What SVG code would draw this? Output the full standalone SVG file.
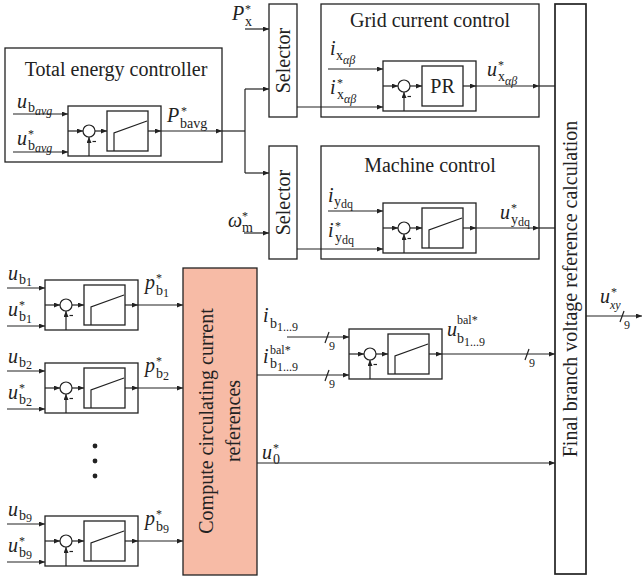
<svg xmlns="http://www.w3.org/2000/svg" xmlns:xlink="http://www.w3.org/1999/xlink" width="643" height="579" viewBox="0 0 643 579">
<style>
.ln{stroke:#222;stroke-width:1.2;fill:none}
.a{marker-end:url(#ah)}
.bx{fill:#fff;stroke:#222;stroke-width:1.3}
.fb{fill:#fff;stroke:#222;stroke-width:1.7}
.pk{fill:#f7bba6;stroke:#222;stroke-width:1.3}
text{font-family:"Liberation Serif","Times New Roman",serif;fill:#222;font-size:20px}
.i{font-style:italic}
.s{font-size:14px}
.ss{font-size:12px}
.st{font-size:12px}
.n9{font-size:12px}
</style>
<defs>
<marker id="ah" markerWidth="6" markerHeight="5" refX="6" refY="2.5" orient="auto" markerUnits="userSpaceOnUse"><path d="M0,0 L6,2.5 L0,5 z" fill="#222"/></marker>
<g id="sum">
<rect class="bx" x="0" y="0" width="93" height="50"/>
<line class="ln a" x1="0" y1="25" x2="15" y2="25"/>
<circle cx="21" cy="25" r="6" fill="#fff" stroke="#222" stroke-width="1.2"/>
<line class="ln a" x1="21" y1="50" x2="21" y2="31"/>
<line class="ln" x1="24.5" y1="35.5" x2="28" y2="35.5"/>
<line class="ln a" x1="27" y1="25" x2="39" y2="25"/>
<line class="ln a" x1="80" y1="25" x2="93" y2="25"/>
</g>
<g id="pi">
<use href="#sum"/>
<rect class="bx" x="39" y="5" width="41" height="40"/>
<polyline class="ln" points="46,45 46,27 79,15"/>
</g>
<g id="pr">
<use href="#sum"/>
<rect class="bx" x="39" y="5" width="41" height="40"/>
<text x="59.5" y="32" text-anchor="middle">PR</text>
</g>
</defs>

<g id="energy">
<rect class="bx" x="5" y="48" width="217" height="114"/>
<text x="116" y="76" text-anchor="middle">Total energy controller</text>
<line class="ln a" x1="13" y1="114" x2="68" y2="114"/>
<line class="ln a" x1="13" y1="152" x2="68" y2="152"/>
<use href="#pi" x="68" y="106"/>
<line class="ln a" x1="161" y1="131" x2="222" y2="131"/>
<text><tspan class="i" x="17" y="108">u</tspan><tspan class="s" x="28" y="112">b</tspan><tspan class="i ss" y="115">avg</tspan></text>
<text><tspan class="i" x="17" y="145">u</tspan><tspan class="st" x="28" y="138">*</tspan><tspan class="s" x="28" y="150">b</tspan><tspan class="i ss" y="152">avg</tspan></text>
<text><tspan class="i" x="167" y="122">P</tspan><tspan class="st" x="181" y="115">*</tspan><tspan class="s" x="180" y="128">bavg</tspan></text>
</g>

<g id="selector1">
<rect class="bx" x="269" y="4" width="28" height="113"/>
<text transform="translate(290,60.5) rotate(-90)" text-anchor="middle">Selector</text>
<text><tspan class="i" x="232" y="20">P</tspan><tspan class="st" x="245" y="13">*</tspan><tspan class="s" x="245" y="26">x</tspan></text>
</g>

<g id="grid">
<rect class="bx" x="321" y="4" width="218" height="113"/>
<text x="430" y="27" text-anchor="middle">Grid current control</text>
<use href="#pr" x="383" y="61"/>
<text><tspan class="i" x="330" y="55">i</tspan><tspan class="s" x="336" y="60">x</tspan><tspan class="i ss" y="64">αβ</tspan></text>
<text><tspan class="i" x="330" y="94">i</tspan><tspan class="st" x="337" y="87">*</tspan><tspan class="s" x="337" y="99">x</tspan><tspan class="i ss" y="103">αβ</tspan></text>
<text><tspan class="i" x="487" y="76">u</tspan><tspan class="st" x="498" y="69">*</tspan><tspan class="s" x="498" y="81">x</tspan><tspan class="i ss" y="85">αβ</tspan></text>
</g>

<g id="selector2">
<rect class="bx" x="269" y="146" width="28" height="113"/>
<text transform="translate(290,202.5) rotate(-90)" text-anchor="middle">Selector</text>
<text><tspan class="i" x="228" y="227">ω</tspan><tspan class="st" x="242" y="220">*</tspan><tspan class="s" x="242" y="232">m</tspan></text>
</g>

<g id="machine">
<rect class="bx" x="321" y="146" width="218" height="113"/>
<text x="430" y="172" text-anchor="middle">Machine control</text>
<use href="#pi" x="383" y="203"/>
<text><tspan class="i" x="328" y="202">i</tspan><tspan class="s" x="334" y="206">y</tspan><tspan class="ss" y="208">dq</tspan></text>
<text><tspan class="i" x="328" y="237">i</tspan><tspan class="st" x="335" y="230">*</tspan><tspan class="s" x="335" y="242">y</tspan><tspan class="ss" y="244">dq</tspan></text>
<text><tspan class="i" x="500" y="219">u</tspan><tspan class="st" x="511" y="212">*</tspan><tspan class="s" x="511" y="224">y</tspan><tspan class="ss" y="226">dq</tspan></text>
</g>

<g id="final">
<rect class="fb" x="555" y="4" width="31" height="570"/>
<text transform="translate(577,289) rotate(-90)" text-anchor="middle">Final branch voltage reference calculation</text>
<text><tspan class="i" x="600" y="303">u</tspan><tspan class="st" x="611" y="296">*</tspan><tspan class="i ss" x="610" y="309">xy</tspan></text>
</g>

<g id="block1">
<use href="#pi" x="45" y="280"/>
<text><tspan class="i" x="8" y="280">u</tspan><tspan class="s" x="19" y="284">b</tspan><tspan class="ss" y="286">1</tspan></text>
<text><tspan class="i" x="8" y="316">u</tspan><tspan class="st" x="19" y="309">*</tspan><tspan class="s" x="19" y="321">b</tspan><tspan class="ss" y="323">1</tspan></text>
<text><tspan class="i" x="145" y="289">p</tspan><tspan class="st" x="156" y="282">*</tspan><tspan class="s" x="156" y="295">b</tspan><tspan class="ss" y="297">1</tspan></text>
</g>

<g id="block2">
<use href="#pi" x="45" y="363"/>
<text><tspan class="i" x="8" y="363">u</tspan><tspan class="s" x="19" y="367">b</tspan><tspan class="ss" y="369">2</tspan></text>
<text><tspan class="i" x="8" y="399">u</tspan><tspan class="st" x="19" y="392">*</tspan><tspan class="s" x="19" y="404">b</tspan><tspan class="ss" y="406">2</tspan></text>
<text><tspan class="i" x="145" y="372">p</tspan><tspan class="st" x="156" y="365">*</tspan><tspan class="s" x="156" y="378">b</tspan><tspan class="ss" y="380">2</tspan></text>
</g>

<g id="dots">
<circle cx="95" cy="446" r="2.4" fill="#222"/>
<circle cx="95" cy="461" r="2.4" fill="#222"/>
<circle cx="95" cy="476" r="2.4" fill="#222"/>
</g>

<g id="block9">
<use href="#pi" x="45" y="516"/>
<text><tspan class="i" x="8" y="516">u</tspan><tspan class="s" x="19" y="520">b</tspan><tspan class="ss" y="522">9</tspan></text>
<text><tspan class="i" x="8" y="552">u</tspan><tspan class="st" x="19" y="545">*</tspan><tspan class="s" x="19" y="557">b</tspan><tspan class="ss" y="559">9</tspan></text>
<text><tspan class="i" x="145" y="525">p</tspan><tspan class="st" x="156" y="518">*</tspan><tspan class="s" x="156" y="531">b</tspan><tspan class="ss" y="533">9</tspan></text>
</g>

<g id="compute">
<rect class="pk" x="183" y="268" width="74" height="307"/>
<text transform="translate(213,421) rotate(-90)" text-anchor="middle">Compute circulating current</text>
<text transform="translate(240,421) rotate(-90)" text-anchor="middle">references</text>
</g>

<g id="balance">
<use href="#pi" x="349" y="329"/>
<text><tspan class="i" x="263" y="322">i</tspan><tspan class="s" x="270" y="328">b</tspan><tspan class="ss" y="331">1...9</tspan></text>
<text><tspan class="i" x="263" y="363">i</tspan><tspan class="ss" x="270" y="354">bal*</tspan><tspan class="s" x="270" y="368">b</tspan><tspan class="ss" y="371">1...9</tspan></text>
<text><tspan class="i" x="447" y="336">u</tspan><tspan class="ss" x="457" y="324">bal*</tspan><tspan class="s" x="457" y="343">b</tspan><tspan class="ss" y="346">1...9</tspan></text>
<text><tspan class="i" x="262" y="459">u</tspan><tspan class="st" x="273" y="452">*</tspan><tspan class="s" x="273" y="464">0</tspan></text>
</g>

<g id="connectors">
<line class="ln" x1="222" y1="131" x2="245" y2="131"/>
<line class="ln" x1="245" y1="89" x2="245" y2="173"/>
<line class="ln a" x1="245" y1="89" x2="269" y2="89"/>
<line class="ln a" x1="245" y1="173" x2="269" y2="173"/>
<line class="ln a" x1="245" y1="29" x2="269" y2="29"/>
<line class="ln a" x1="244" y1="233" x2="269" y2="233"/>
<line class="ln a" x1="297" y1="107" x2="383" y2="107"/>
<line class="ln a" x1="328" y1="69" x2="383" y2="69"/>
<line class="ln a" x1="476" y1="86" x2="539" y2="86"/>
<line class="ln" x1="539" y1="86" x2="555" y2="86"/>
<line class="ln a" x1="297" y1="249" x2="383" y2="249"/>
<line class="ln a" x1="328" y1="211" x2="383" y2="211"/>
<line class="ln a" x1="476" y1="228" x2="539" y2="228"/>
<line class="ln" x1="539" y1="228" x2="555" y2="228"/>
<line class="ln a" x1="7" y1="288" x2="45" y2="288"/>
<line class="ln a" x1="7" y1="326" x2="45" y2="326"/>
<line class="ln a" x1="138" y1="305" x2="183" y2="305"/>
<line class="ln a" x1="7" y1="371" x2="45" y2="371"/>
<line class="ln a" x1="7" y1="409" x2="45" y2="409"/>
<line class="ln a" x1="138" y1="388" x2="183" y2="388"/>
<line class="ln a" x1="7" y1="524" x2="45" y2="524"/>
<line class="ln a" x1="7" y1="562" x2="45" y2="562"/>
<line class="ln a" x1="138" y1="541" x2="183" y2="541"/>
<line class="ln a" x1="287" y1="337" x2="349" y2="337"/>
<line class="ln a" x1="257" y1="375" x2="349" y2="375"/>
<line class="ln a" x1="442" y1="354" x2="555" y2="354"/>
<line class="ln a" x1="257" y1="463" x2="555" y2="463"/>
<line class="ln a" x1="586" y1="316" x2="642" y2="316"/>
<line class="ln" x1="325" y1="343" x2="329" y2="332"/>
<text class="n9" x="329" y="350">9</text>
<line class="ln" x1="325" y1="381" x2="329" y2="370"/>
<text class="n9" x="329" y="388">9</text>
<line class="ln" x1="525" y1="360" x2="529" y2="349"/>
<text class="n9" x="529" y="367">9</text>
<line class="ln" x1="620" y1="322" x2="624" y2="311"/>
<text class="n9" x="624" y="329">9</text>
</g>
</svg>
